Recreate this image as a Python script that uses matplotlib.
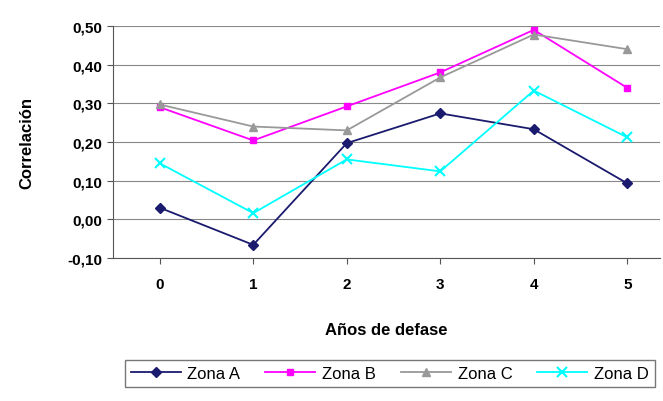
import matplotlib
matplotlib.use("Agg")
import matplotlib.pyplot as plt

plt.rcParams["font.family"] = ["Liberation Sans", "DejaVu Sans"]

lags = [0, 1, 2, 3, 4, 5]
zona_a = [0.03, -0.066, 0.197, 0.274, 0.233, 0.093]
zona_b = [0.29, 0.204, 0.292, 0.38, 0.49, 0.34]
zona_c = [0.297, 0.24, 0.23, 0.367, 0.478, 0.44]
zona_d = [0.145, 0.016, 0.155, 0.124, 0.333, 0.212]
yticks = [-0.10, 0.00, 0.10, 0.20, 0.30, 0.40, 0.50]

fig = plt.figure(figsize=(6.63, 4.02), dpi=100)
ax = fig.add_axes([113 / 663, 1 - 259 / 402, (660 - 113) / 663, (259 - 27) / 402])

ax.plot(lags, zona_a, color="#1a1a6e", marker="D", ms=5, lw=1.3, label="Zona A")
ax.plot(lags, zona_b, color="#ff00ff", marker="s", ms=5, lw=1.3, label="Zona B")
ax.plot(lags, zona_c, color="#999999", marker="^", ms=6, lw=1.3, label="Zona C")
ax.plot(lags, zona_d, color="#00ffff", marker="x", ms=7, mew=1.5, lw=1.3, label="Zona D")

ax.set_xlim(-0.5, 5.35)
ax.set_ylim(-0.10, 0.50)
ax.set_yticks(yticks)
ax.set_yticklabels([f"{v:.2f}".replace(".", ",") for v in yticks], fontweight="bold", fontsize=11)
ax.set_xticks(lags)
ax.set_xticklabels([str(v) for v in lags], fontweight="bold", fontsize=11)
ax.yaxis.grid(True, color="#888888", lw=0.8)
ax.set_axisbelow(True)
for s in ["top", "right"]:
    ax.spines[s].set_visible(False)
ax.spines["left"].set_color("#555555")
ax.spines["bottom"].set_color("#555555")
ax.tick_params(length=4, color="#555555")
ax.tick_params(axis="x", pad=10)

ax.set_ylabel("Correlación", fontweight="bold", fontsize=12, labelpad=24)
ax.set_xlabel("Años de defase", fontweight="bold", fontsize=12, labelpad=22)

fig.legend(loc="lower center", bbox_to_anchor=(0.588, 0.015), ncol=4, fontsize=12,
           frameon=True, fancybox=False, edgecolor="#555555",
           handlelength=3.0, columnspacing=1.5, handletextpad=0.4, borderpad=0.35)

fig.savefig("out.png")
